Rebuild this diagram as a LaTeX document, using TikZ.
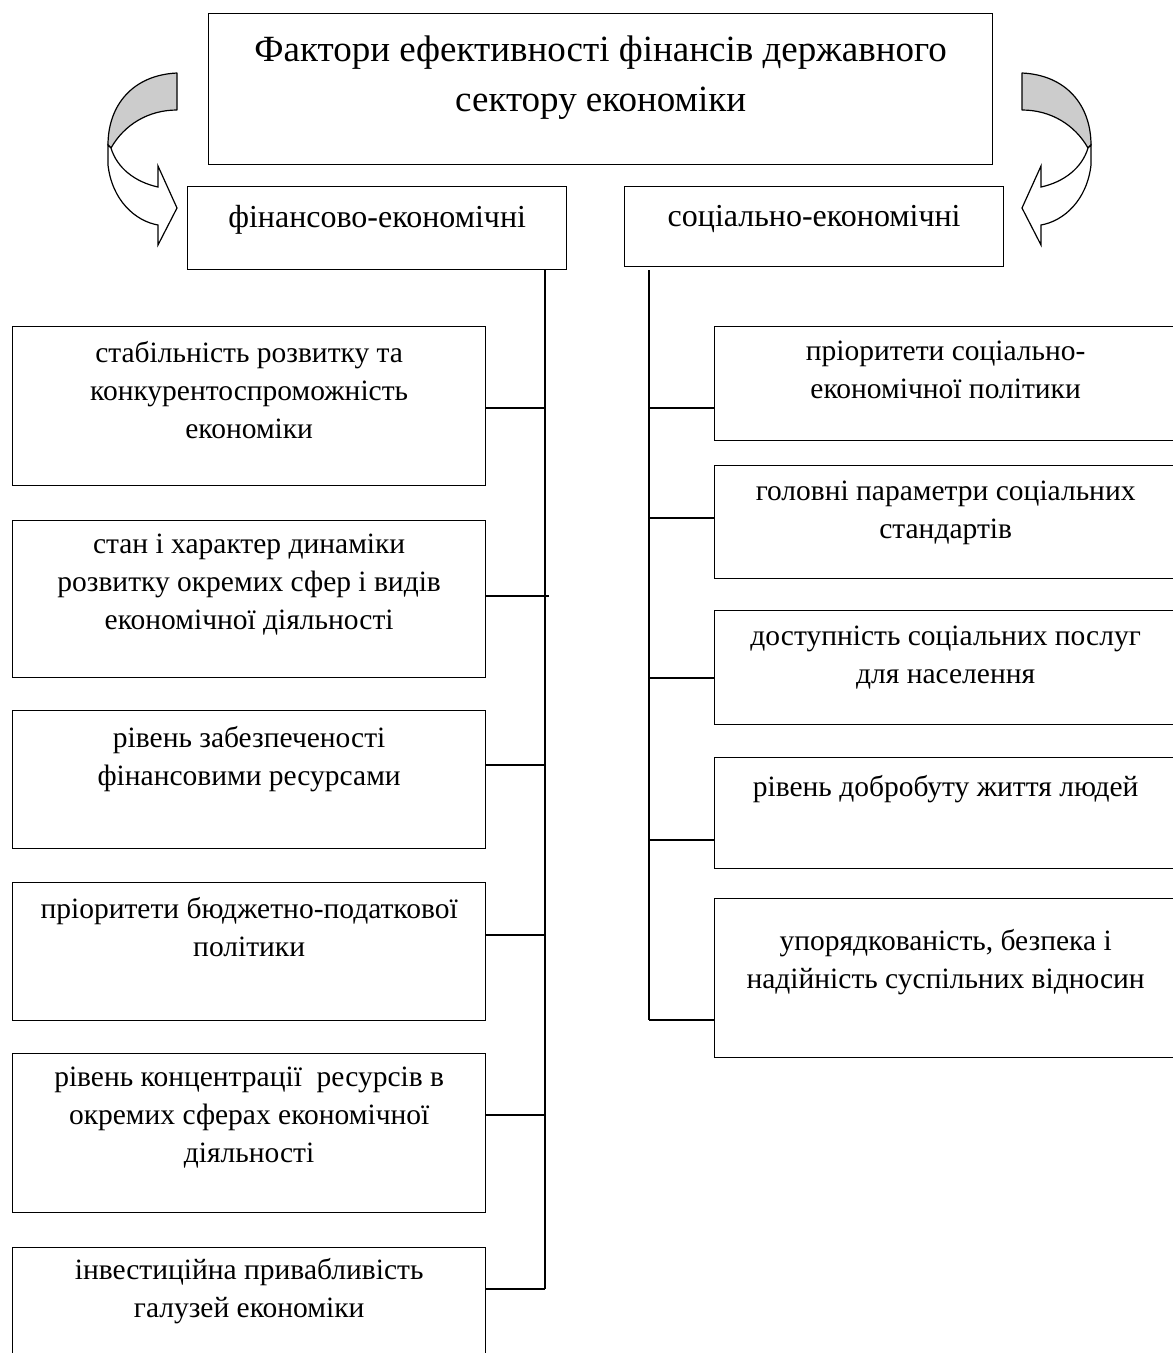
\documentclass[tikz,border=0pt]{standalone}
\usepackage{fontspec}
\setmainfont{Liberation Serif}
\tikzset{
  frame/.style={draw, line width=1.3pt, inner sep=0pt, anchor=north west},
  txt/.style={anchor=north, inner sep=0pt, align=center, font=\fontsize{29.5}{38}\selectfont},
  hdr/.style={anchor=north, inner sep=0pt, align=center, font=\fontsize{32}{38}\selectfont},
  ttl/.style={anchor=north, inner sep=0pt, align=center, font=\fontsize{37}{50}\selectfont},
  conn/.style={line width=1.4pt},
  curvarrow/.pic={
    \draw[line width=1.2pt, fill=gray!40, line join=round]
      (177,73) .. controls (133,75) and (108,105) .. (108,145) -- (111,148)
      .. controls (124,125) and (148,110) .. (177,110) -- cycle;
    \draw[line width=1.2pt, fill=white, line join=miter]
      (108,145) -- (108,165) .. controls (112,200) and (135,221) .. (158,225)
      -- (158,245) -- (177,208) -- (158,166) -- (158,187)
      .. controls (135,182) and (117,168) .. (111,148) -- cycle;
  }
}
\begin{document}
\begin{tikzpicture}[x=1pt,y=-1pt]
\useasboundingbox (0,0) rectangle (1173,1353);
\clip (0,0) rectangle (1173,1353);
\fill[white] (0,0) rectangle (1173,1353);

% title
\node[frame, minimum width=784, minimum height=151] (title) at (208,13) {};
\node[ttl] (titlet) at ([yshift=-23pt]title.north) {Фактори ефективності фінансів державного\\ сектору економіки};

% curved arrows
\pic (arrL) at (0,0) {curvarrow};
\pic[xscale=-1] (arrR) at (1199,0) {curvarrow};

% group headings
\node[frame, minimum width=379, minimum height=83] (fe) at (187,186) {};
\node[hdr] (fet) at ([yshift=-19pt]fe.north) {фінансово-економічні};
\node[frame, minimum width=379, minimum height=80] (se) at (624,186) {};
\node[hdr] (set) at ([yshift=-19pt]se.north) {соціально-економічні};

% left boxes
\node[frame, minimum width=473, minimum height=159] (l1) at (12,326) {};
\node[txt] (l1t) at ([yshift=-15pt]l1.north) {стабільність розвитку та\\ конкурентоспроможність\\ економіки};
\node[frame, minimum width=473, minimum height=157] (l2) at (12,520) {};
\node[txt] (l2t) at ([yshift=-14pt]l2.north) {стан і характер динаміки\\ розвитку окремих сфер і видів\\ економічної діяльності};
\node[frame, minimum width=473, minimum height=138] (l3) at (12,710) {};
\node[txt] (l3t) at ([yshift=-16pt]l3.north) {рівень забезпеченості\\ фінансовими ресурсами};
\node[frame, minimum width=473, minimum height=138] (l4) at (12,882) {};
\node[txt] (l4t) at ([yshift=-15pt]l4.north) {пріоритети бюджетно-податкової\\ політики};
\node[frame, minimum width=473, minimum height=159] (l5) at (12,1053) {};
\node[txt] (l5t) at ([yshift=-14pt]l5.north) {рівень концентрації\ \ ресурсів в\\ окремих сферах економічної\\ діяльності};
\node[frame, minimum width=473, minimum height=130] (l6) at (12,1247) {};
\node[txt] (l6t) at ([yshift=-11pt]l6.north) {інвестиційна привабливість\\ галузей економіки};

% right boxes
\node[frame, minimum width=462, minimum height=114] (r1) at (714,326) {};
\node[txt] (r1t) at ([yshift=-15pt]r1.north) {пріоритети соціально-\\ економічної політики};
\node[frame, minimum width=462, minimum height=113] (r2) at (714,465) {};
\node[txt] (r2t) at ([yshift=-16pt]r2.north) {головні параметри соціальних\\ стандартів};
\node[frame, minimum width=462, minimum height=114] (r3) at (714,610) {};
\node[txt] (r3t) at ([yshift=-16pt]r3.north) {доступність соціальних послуг\\ для населення};
\node[frame, minimum width=462, minimum height=111] (r4) at (714,757) {};
\node[txt] (r4t) at ([yshift=-18pt]r4.north) {рівень добробуту життя людей};
\node[frame, minimum width=462, minimum height=159] (r5) at (714,898) {};
\node[txt] (r5t) at ([yshift=-31pt]r5.north) {упорядкованість, безпека і\\ надійність суспільних відносин};

% left trunk
\coordinate (LT) at (545,269);
\coordinate (L1) at (545,408);
\coordinate (L2) at (549,596);
\coordinate (L3) at (545,765);
\coordinate (L4) at (545,935);
\coordinate (L5) at (545,1115);
\coordinate (L6) at (545,1289);
\draw[conn] (LT) -- (L6);
\draw[conn] (l1.east |- L1) -- (L1);
\draw[conn] (l2.east |- L2) -- (L2);
\draw[conn] (l3.east |- L3) -- (L3);
\draw[conn] (l4.east |- L4) -- (L4);
\draw[conn] (l5.east |- L5) -- (L5);
\draw[conn] (l6.east |- L6) -- (L6);

% right trunk
\coordinate (RT) at (649,270);
\coordinate (R1) at (649,408);
\coordinate (R2) at (649,518);
\coordinate (R3) at (649,678);
\coordinate (R4) at (649,840);
\coordinate (R5) at (649,1020);
\draw[conn] (RT) -- (R5);
\draw[conn] (R1) -- (r1.west |- R1);
\draw[conn] (R2) -- (r2.west |- R2);
\draw[conn] (R3) -- (r3.west |- R3);
\draw[conn] (R4) -- (r4.west |- R4);
\draw[conn] (R5) -- (r5.west |- R5);
\end{tikzpicture}
\end{document}
